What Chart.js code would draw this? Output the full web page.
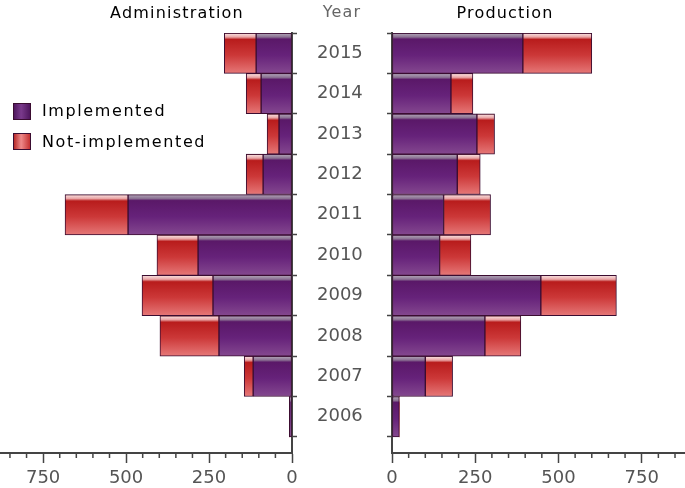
<!DOCTYPE html>
<html>
<head>
<meta charset="utf-8">
<script src="https://cdn.jsdelivr.net/npm/chart.js@4/dist/chart.umd.min.js"></script>
<style>
  body { margin: 0; background: #fff; }
  #wrap { position: relative; width: 685px; height: 488px; }
  canvas { position: absolute; top: 0; }
</style>
</head>
<body>
<div id="wrap">
  <canvas id="adminChart" width="392" height="488" style="left:0"></canvas>
  <canvas id="prodChart" width="305" height="488" style="left:380px"></canvas>
</div>
<script>
// values, bottom row first
const years = ['2006', '2007', '2008', '2009', '2010', '2011', '2012', '2013', '2014', '2015'];
const adminImplemented = [8, 117, 220, 238, 283, 494, 87, 39, 93, 108];
const adminNotImplemented = [0, 27, 178, 214, 124, 190, 51, 36, 45, 96];
const prodImplemented = [22, 100, 279, 447, 143, 155, 196, 255, 177, 393];
const prodNotImplemented = [0, 82, 108, 227, 94, 141, 69, 53, 66, 207];
const seriesNames = ['Implemented', 'Not-implemented'];
const axisMax = 880;

const FONT = '"DejaVu Sans", Verdana, sans-serif';
const AXIS = '#444';

const stops = {
    impl: [[0, '#3c0c44'], [0.03, '#a898ae'], [0.1, '#8a7092'], [0.15, '#5a1868'], [0.55, '#66227a'], [1, '#84488f']],
    not: [[0, '#6a1010'], [0.03, '#f6d4d4'], [0.1, '#e9a4a4'], [0.16, '#b81c1c'], [0.55, '#cc3838'], [1, '#e67878']]
};
const solid = { impl: '#62207a', not: '#c83434' };

// vertical gradient for each bar, built from the y scale of its row
function barFill(kind) {
    return (ctx) => {
        if (ctx.type !== 'data') return solid[kind];
        const ys = ctx.chart.scales.y;
        if (!ys) return solid[kind];
        const c = ys.getPixelForValue(ctx.dataIndex);
        const h = Math.abs(ys.getPixelForValue(ctx.dataIndex + 0.5) - c);
        if (!isFinite(c) || !isFinite(h) || h === 0) return solid[kind];
        const g = ctx.chart.ctx.createLinearGradient(0, c - h, 0, c + h);
        stops[kind].forEach(s => g.addColorStop(s[0], s[1]));
        return g;
    };
}

function makeDatasets(impl, notImpl) {
    const common = {
        borderColor: '#3a0c30',
        borderWidth: (ctx) => (ctx.raw && ctx.raw.x === 0 ? 0 : 1),
        borderSkipped: false,
        barPercentage: 1,
        categoryPercentage: 1
    };
    return [
        Object.assign({ label: seriesNames[0], data: impl.map((v, i) => ({ x: v, y: i })), backgroundColor: barFill('impl') }, common),
        Object.assign({ label: seriesNames[1], data: notImpl.map((v, i) => ({ x: v, y: i })), backgroundColor: barFill('not') }, common)
    ];
}

function xScale(reverse) {
    return {
        type: 'linear',
        reverse: reverse,
        min: 0,
        max: axisMax,
        stacked: true,
        afterBuildTicks: (s) => {
            const t = [];
            for (let v = 0; v < axisMax; v += 50) t.push({ value: v });
            s.ticks = t;
        },
        afterFit: (s) => { s.height = 35; },
        grid: {
            drawOnChartArea: false,
            tickLength: 10,
            // only the labelled ticks are long, the short ones come from minorTicks
            tickColor: (ctx) => (ctx.tick && ctx.tick.value % 250 === 0 ? AXIS : 'rgba(0,0,0,0)'),
            tickWidth: 1.5
        },
        border: { display: true, color: AXIS, width: 2 },
        ticks: {
            autoSkip: false,
            maxRotation: 0,
            minRotation: 0,
            padding: 5,
            color: '#555',
            font: { family: FONT, size: 18 },
            callback: (v) => (v % 250 === 0 ? v : '')
        }
    };
}

function yScale(position, showLabels) {
    return {
        type: 'linear',
        position: position,
        min: -0.9,
        max: 9.5,
        offset: false,
        stacked: true,
        afterBuildTicks: (s) => { s.ticks = years.map((_, i) => ({ value: i })); },
        afterFit: (s) => { s.width = showLabels ? 100 : 12; },
        grid: {
            offset: true,
            drawOnChartArea: false,
            tickLength: 5,
            tickColor: AXIS,
            tickWidth: 1.5
        },
        border: { color: AXIS, width: 2 },
        ticks: {
            display: showLabels,
            autoSkip: false,
            padding: 20,
            color: '#555',
            font: { family: FONT, size: 18 },
            callback: (v) => years[v]
        }
    };
}

// short ticks every 50 and the x axis line
const minorTicks = {
    id: 'minorTicks',
    afterDraw(chart) {
        const xs = chart.scales.x;
        const ctx = chart.ctx;
        const area = chart.chartArea;
        const y = Math.round(area.bottom);
        ctx.save();
        ctx.fillStyle = AXIS;
        ctx.fillRect(area.left, y - 1, area.right - area.left, 2);
        xs.ticks.forEach(t => {
            if (t.value % 250 === 0) return;
            const x = xs.getPixelForValue(t.value);
            ctx.fillRect(x - 0.75, y, 1.5, 5);
        });
        ctx.restore();
    }
};

function legendBox(ctx, x, y, w, h, colors) {
    const g = ctx.createLinearGradient(x, 0, x + w, 0);
    g.addColorStop(0, colors[0]);
    g.addColorStop(0.45, colors[1]);
    g.addColorStop(1, colors[2]);
    ctx.fillStyle = g;
    ctx.fillRect(x, y, w, h);
    ctx.strokeStyle = '#3a0c30';
    ctx.lineWidth = 1;
    ctx.strokeRect(x + 0.5, y + 0.5, w - 1, h - 1);
}

const adminText = {
    id: 'adminText',
    afterDraw(chart) {
        const ctx = chart.ctx;
        ctx.save();
        ctx.font = '16px ' + FONT;
        ctx.letterSpacing = '1.2px';
        ctx.textBaseline = 'alphabetic';
        ctx.textAlign = 'center';
        ctx.fillStyle = '#000';
        ctx.fillText('Administration', 177, 18);
        ctx.fillStyle = '#666';
        ctx.fillText('Year', 342, 17);

        // legend
        legendBox(ctx, 13, 103, 18, 17, ['#4a1258', '#7a3a8c', '#4a1258']);
        legendBox(ctx, 13, 133, 18, 17, ['#b01c1c', '#ee8a8a', '#c02828']);
        ctx.textAlign = 'left';
        ctx.textBaseline = 'middle';
        ctx.letterSpacing = '1.6px';
        ctx.fillStyle = '#000';
        ctx.fillText(chart.data.datasets[0].label, 42, 112);
        ctx.fillText(chart.data.datasets[1].label, 42, 143);
        ctx.restore();
    }
};

const prodText = {
    id: 'prodText',
    afterDraw(chart) {
        const ctx = chart.ctx;
        ctx.save();
        ctx.font = '16px ' + FONT;
        ctx.letterSpacing = '1.2px';
        ctx.textAlign = 'center';
        ctx.fillStyle = '#000';
        ctx.fillText('Production', 125, 18);
        ctx.restore();
    }
};

const baseOptions = {
    indexAxis: 'y',
    responsive: false,
    animation: false,
    layout: { padding: { top: 33, left: 0, right: 0, bottom: 0 } },
    plugins: { legend: { display: false }, tooltip: { enabled: false } }
};

new Chart(document.getElementById('adminChart'), {
    type: 'bar',
    data: { datasets: makeDatasets(adminImplemented, adminNotImplemented) },
    options: Object.assign({}, baseOptions, {
        scales: { x: xScale(true), y: yScale('right', true) }
    }),
    plugins: [minorTicks, adminText]
});

new Chart(document.getElementById('prodChart'), {
    type: 'bar',
    data: { datasets: makeDatasets(prodImplemented, prodNotImplemented) },
    options: Object.assign({}, baseOptions, {
        scales: { x: xScale(false), y: yScale('left', false) }
    }),
    plugins: [minorTicks, prodText]
});
</script>
</body>
</html>
